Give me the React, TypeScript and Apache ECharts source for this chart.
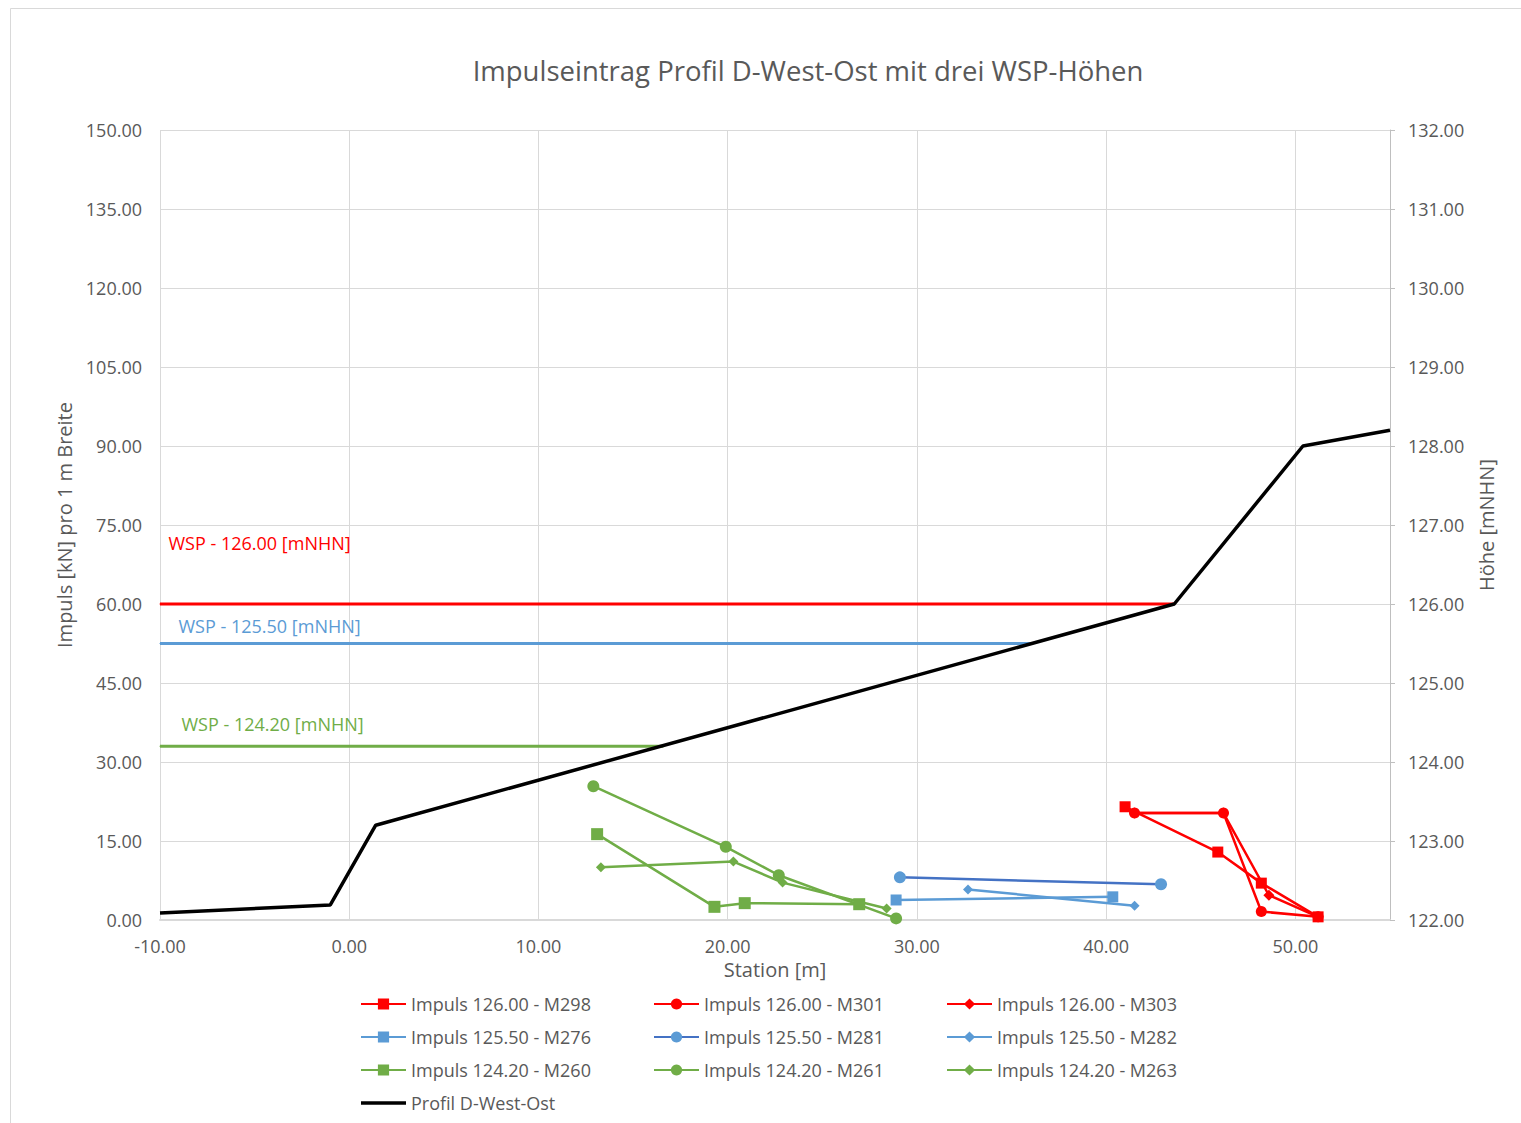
import React, { useEffect, useRef } from "react";
import * as echarts from "echarts";

const FONT = "Open Sans";
const TEXT = "#595959";

// Profile (right axis, Höhe mNHN)
const profileStation = [-10, -1, 1.4, 43.6, 50.4, 55];
const profileHeight = [122.09, 122.19, 123.2, 126.0, 128.0, 128.2];

// Water levels (right axis)
const wspNames = ["WSP - 126.00 [mNHN]", "WSP - 125.50 [mNHN]", "WSP - 124.20 [mNHN]"];
const wspLevels = [126.0, 125.5, 124.2];
const wspEnd = [43.6, 36.0, 16.6];
const wspColors = ["#FF0000", "#5B9BD5", "#70AD47"];

// Impulse series (left axis)
const m298x = [41.0, 45.9, 48.2, 51.2];
const m298y = [21.5, 12.9, 7.0, 0.6];
const m301x = [41.5, 46.2, 48.2, 51.2];
const m301y = [20.3, 20.3, 1.6, 0.6];
const m303x = [41.5, 46.2, 48.6, 51.2];
const m303y = [20.3, 20.3, 4.7, 0.6];
const m276x = [28.9, 40.35];
const m276y = [3.8, 4.4];
const m281x = [29.1, 42.9];
const m281y = [8.1, 6.8];
const m282x = [32.7, 41.5];
const m282y = [5.8, 2.7];
const m260x = [13.1, 19.3, 20.9, 26.95];
const m260y = [16.3, 2.5, 3.2, 3.0];
const m261x = [12.9, 19.9, 22.7, 28.9];
const m261y = [25.4, 13.9, 8.5, 0.3];
const m263x = [13.3, 20.3, 22.9, 28.4];
const m263y = [10.0, 11.1, 7.1, 2.2];

const zip = (xs: number[], ys: number[]) => xs.map((x, i) => [x, ys[i]]);

const impulseSeries = [
  { name: "Impuls 126.00 - M298", x: m298x, y: m298y, line: "#FF0000", mark: "#FF0000", symbol: "rect", size: 11 },
  { name: "Impuls 126.00 - M301", x: m301x, y: m301y, line: "#FF0000", mark: "#FF0000", symbol: "circle", size: 11 },
  { name: "Impuls 126.00 - M303", x: m303x, y: m303y, line: "#FF0000", mark: "#FF0000", symbol: "diamond", size: 11 },
  { name: "Impuls 125.50 - M276", x: m276x, y: m276y, line: "#5B9BD5", mark: "#5B9BD5", symbol: "rect", size: 11 },
  { name: "Impuls 125.50 - M281", x: m281x, y: m281y, line: "#4472C4", mark: "#5B9BD5", symbol: "circle", size: 12 },
  { name: "Impuls 125.50 - M282", x: m282x, y: m282y, line: "#5B9BD5", mark: "#5B9BD5", symbol: "diamond", size: 10 },
  { name: "Impuls 124.20 - M260", x: m260x, y: m260y, line: "#70AD47", mark: "#70AD47", symbol: "rect", size: 12 },
  { name: "Impuls 124.20 - M261", x: m261x, y: m261y, line: "#70AD47", mark: "#70AD47", symbol: "circle", size: 12 },
  { name: "Impuls 124.20 - M263", x: m263x, y: m263y, line: "#70AD47", mark: "#70AD47", symbol: "diamond", size: 10 },
];

const PROFILE_NAME = "Profil D-West-Ost";
const legendCol1 = ["Impuls 126.00 - M298", "Impuls 125.50 - M276", "Impuls 124.20 - M260", PROFILE_NAME];
const legendCol2 = ["Impuls 126.00 - M301", "Impuls 125.50 - M281", "Impuls 124.20 - M261"];
const legendCol3 = ["Impuls 126.00 - M303", "Impuls 125.50 - M282", "Impuls 124.20 - M263"];

const wspLabelPos = [
  [9, -70],
  [19, -26],
  [22, -31],
];

export default function App() {
  const ref = useRef<HTMLDivElement>(null);
  useEffect(() => {
    if (!ref.current) return;
    const chart = echarts.init(ref.current, null, { renderer: "svg" });
    const legendBase = {
      orient: "vertical",
      top: 993,
      padding: 0,
      itemWidth: 45,
      itemHeight: 14,
      itemGap: 11,
      textStyle: { color: TEXT, fontFamily: FONT, fontSize: 18, lineHeight: 22 },
    };
    const profileIcon = "path://M0,0M0,5.3L45,5.3L45,8.7L0,8.7ZM45,14";
    const mapLegend = (arr: string[]) =>
      arr.map((n) => (n === PROFILE_NAME ? { name: n, icon: profileIcon } : n));

    const series: any[] = [];
    wspLevels.forEach((lvl, i) => {
      series.push({
        name: wspNames[i],
        type: "line",
        yAxisIndex: 1,
        data: [
          {
            value: [-10, lvl],
            label: {
              show: true,
              position: wspLabelPos[i],
              formatter: wspNames[i],
              color: wspColors[i],
              fontFamily: FONT,
              fontSize: 18,
            },
          },
          [wspEnd[i], lvl],
        ],
        symbol: "circle",
        symbolSize: 1,
        showAllSymbol: true,
        itemStyle: { color: wspColors[i] },
        lineStyle: { color: wspColors[i], width: 3 },
        z: 2,
        silent: true,
      });
    });
    series.push({
      name: PROFILE_NAME,
      type: "line",
      yAxisIndex: 1,
      data: zip(profileStation, profileHeight),
      symbol: "none",
      itemStyle: { color: "#000000" },
      lineStyle: { color: "#000000", width: 3.5 },
      z: 3,
    });
    impulseSeries.forEach((s) => {
      series.push({
        name: s.name,
        type: "line",
        yAxisIndex: 0,
        data: zip(s.x, s.y),
        symbol: s.symbol,
        symbolSize: s.size,
        showAllSymbol: true,
        itemStyle: { color: s.mark },
        lineStyle: { color: s.line, width: 2.5 },
        z: 4,
      });
    });

    chart.setOption({
      animation: false,
      backgroundColor: "#ffffff",
      title: {
        text: "Impulseintrag Profil D-West-Ost mit drei WSP-Höhen",
        left: 803,
        textAlign: "center",
        top: 51,
        textStyle: { color: TEXT, fontFamily: FONT, fontSize: 27.5, fontWeight: "normal" },
      },
      graphic: [
        {
          type: "rect",
          shape: { x: 10.5, y: 8.5, width: 1530, height: 1130 },
          style: { fill: "none", stroke: "#d9d9d9", lineWidth: 1 },
          silent: true,
        },
      ],
      grid: { left: 160, right: 131, top: 130, bottom: 203, containLabel: false },
      legend: [
        { ...legendBase, left: 360, data: mapLegend(legendCol1) },
        { ...legendBase, left: 653, data: mapLegend(legendCol2) },
        { ...legendBase, left: 946, data: mapLegend(legendCol3) },
      ],
      xAxis: {
        type: "value",
        min: -10,
        max: 55,
        interval: 10,
        name: "Station [m]",
        nameLocation: "middle",
        nameGap: 36,
        nameTextStyle: { color: TEXT, fontFamily: FONT, fontSize: 20 },
        axisLine: { show: true, onZero: false, lineStyle: { color: "#d9d9d9", width: 2 } },
        axisTick: { show: false },
        axisLabel: {
          color: TEXT,
          fontFamily: FONT,
          fontSize: 18,
          margin: 17,
          showMaxLabel: false,
          formatter: (v: number) => (v > 50 ? "" : v.toFixed(2)),
        },
        splitLine: { show: true, lineStyle: { color: "#d9d9d9", width: 1 } },
      },
      yAxis: [
        {
          type: "value",
          min: 0,
          max: 150,
          interval: 15,
          name: "Impuls [kN] pro 1 m Breite",
          nameLocation: "middle",
          nameRotate: 90,
          nameGap: 82,
          nameTextStyle: { color: TEXT, fontFamily: FONT, fontSize: 20 },
          axisLine: { show: false },
          axisTick: { show: false },
          axisLabel: {
            color: TEXT,
            fontFamily: FONT,
            fontSize: 18,
            margin: 18,
            formatter: (v: number) => v.toFixed(2),
          },
          splitLine: { show: true, lineStyle: { color: "#d9d9d9", width: 1 } },
        },
        {
          type: "value",
          position: "right",
          min: 122,
          max: 132,
          interval: 1,
          name: "Höhe [mNHN]",
          nameLocation: "middle",
          nameRotate: 90,
          nameGap: 86,
          nameTextStyle: { color: TEXT, fontFamily: FONT, fontSize: 20 },
          axisLine: { show: true, lineStyle: { color: "#bfbfbf", width: 1 } },
          axisTick: { show: true, length: 5, lineStyle: { color: "#bfbfbf" } },
          axisLabel: {
            color: TEXT,
            fontFamily: FONT,
            fontSize: 18,
            margin: 18,
            formatter: (v: number) => v.toFixed(2),
          },
          splitLine: { show: false },
        },
      ],
      series,
    });
    return () => chart.dispose();
  }, []);
  return (
    <div
      ref={ref}
      style={{ position: "fixed", left: 0, top: 0, width: 1521, height: 1123 }}
    />
  );
}
